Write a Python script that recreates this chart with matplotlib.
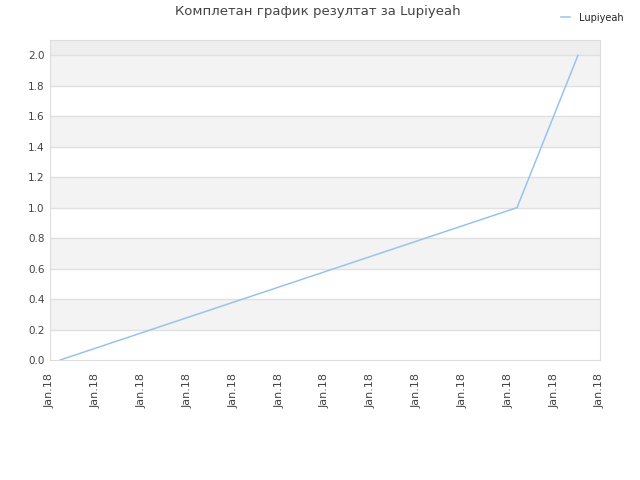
import matplotlib
matplotlib.use("Agg")
import matplotlib.pyplot as plt

title = "Комплетан график резултат за Lupiyeah"
series_name = "Lupiyeah"
x_values = [0.22, 10.19, 11.52]
y_values = [0.0, 1.0, 2.0]
x_ticks = list(range(13))
x_tick_labels = ["Jan.18"] * 13
y_ticks = [0.0, 0.2, 0.4, 0.6, 0.8, 1.0, 1.2, 1.4, 1.6, 1.8, 2.0]

fig = plt.figure(figsize=(6.4, 4.8), dpi=100)
ax = fig.add_axes([50/640, 1-360/480, 550/640, 320/480])

ax.set_xlim(0, 12)
ax.set_ylim(0, 2.1)

# alternating bands
for i in range(len(y_ticks) - 1):
    if i % 2 == 1:
        ax.axhspan(y_ticks[i], y_ticks[i+1], color="#f3f3f3", zorder=0, lw=0)
ax.axhspan(2.0, 2.1, color="#eeeeee", zorder=0, lw=0)
for y in y_ticks[1:]:
    ax.axhline(y, color="#e0e0e0", lw=1, zorder=1)

ax.plot(x_values, y_values, color="#99c2f0", lw=1.1, label=series_name, zorder=3)

ax.set_xticks(x_ticks)
ax.set_xticklabels(x_tick_labels, rotation=90, fontsize=8, color="#444444")
ax.set_yticks(y_ticks)
ax.set_yticklabels([f"{v:.1f}" for v in y_ticks], fontsize=7.5, color="#444444")
ax.tick_params(axis="x", length=0, pad=9)
ax.tick_params(axis="y", length=0, pad=4)
for s in ax.spines.values():
    s.set_color("#dddddd")

fig.text(318/640, 1-12/480, title, ha="center", va="center", fontsize=9.5, color="#444444")
leg = fig.legend(loc="upper right", bbox_to_anchor=(632/640, 1-4/480), frameon=False,
                 fontsize=7, handlelength=0.9, handletextpad=0.9)
for t in leg.get_texts():
    t.set_color("#222222")

fig.savefig("out.png", dpi=100)
